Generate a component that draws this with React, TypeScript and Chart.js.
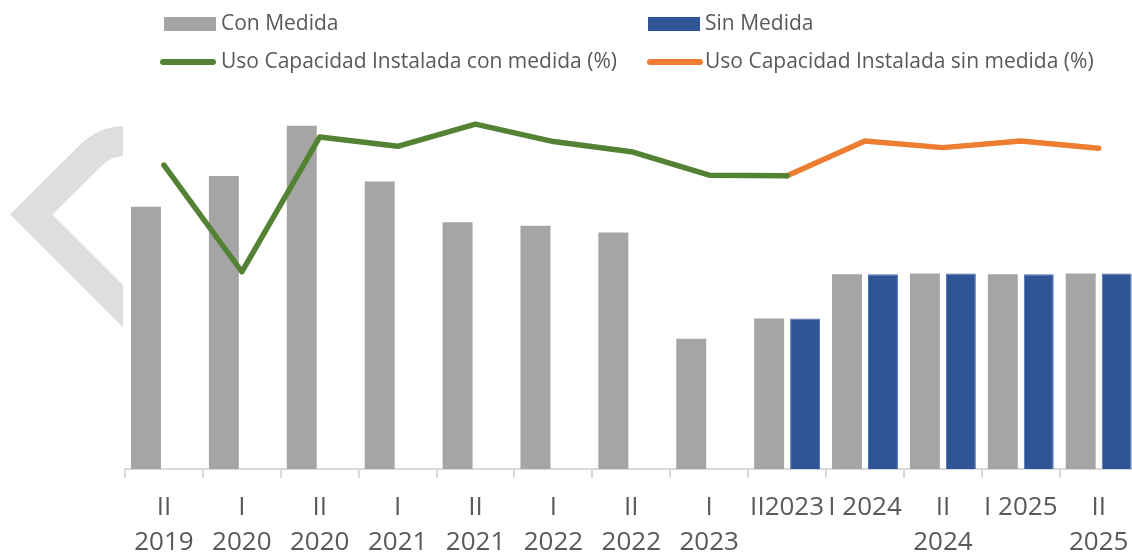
import React, { useEffect, useRef } from "react";
import { Chart, registerables } from "chart.js";

Chart.register(...registerables);

const categories: (string | string[])[] = [
  ["II", "2019"],
  ["I", "2020"],
  ["II", "2020"],
  ["I", "2021"],
  ["II", "2021"],
  ["I", "2022"],
  ["II", "2022"],
  ["I", "2023"],
  "II2023",
  "I 2024",
  ["II", "2024"],
  "I 2025",
  ["II", "2025"],
];

const conMedida = [71.1, 79.4, 93.0, 77.9, 66.9, 65.9, 64.1, 35.3, 40.8, 52.8, 53.0, 52.8, 53.0];
const sinMedida = [null, null, null, null, null, null, null, null, 40.8, 52.8, 53.0, 52.8, 53.0];
const usoConMedida = [75.3, 59.4, 79.5, 78.1, 81.4, 78.8, 77.3, 73.8, 73.7, null, null, null, null];
const usoSinMedida = [null, null, null, null, null, null, null, null, 73.7, 78.9, 77.9, 78.9, 77.8];

const labelCon = "Con Medida";
const labelSin = "Sin Medida";
const labelUsoCon = "Uso Capacidad Instalada con medida (%)";
const labelUsoSin = "Uso Capacidad Instalada sin medida (%)";

const GRAY = "#A5A5A5";
const BLUE = "#2F5597";
const GREEN = "#548235";
const ORANGE = "#ED7D31";
const TEXT = "#595959";
const FONT = "'Open Sans', sans-serif";

const legendItems = [
  { label: labelCon, color: GRAY, kind: "box", left: 164, top: 8, textLeft: 221 },
  { label: labelSin, color: BLUE, kind: "box", left: 648, top: 8, textLeft: 705 },
  { label: labelUsoCon, color: GREEN, kind: "line", left: 160, top: 46, textLeft: 221 },
  { label: labelUsoSin, color: ORANGE, kind: "line", left: 647, top: 46, textLeft: 705 },
];

export default function App() {
  const canvasRef = useRef<HTMLCanvasElement | null>(null);

  useEffect(() => {
    if (!canvasRef.current) return;
    const chart = new Chart(canvasRef.current, {
      type: "bar",
      data: {
        labels: categories,
        datasets: [
          {
            type: "line",
            label: labelUsoCon,
            data: usoConMedida,
            borderColor: GREEN,
            backgroundColor: GREEN,
            borderWidth: 5.5,
            pointRadius: 0,
            borderCapStyle: "round",
            borderJoinStyle: "round",
            yAxisID: "y1",
            order: 0,
            spanGaps: false,
          },
          {
            type: "line",
            label: labelUsoSin,
            data: usoSinMedida,
            borderColor: ORANGE,
            backgroundColor: ORANGE,
            borderWidth: 5.5,
            pointRadius: 0,
            borderCapStyle: "round",
            borderJoinStyle: "round",
            yAxisID: "y1",
            order: 0,
            spanGaps: false,
          },
          {
            type: "bar",
            label: labelCon,
            data: conMedida,
            backgroundColor: GRAY,
            yAxisID: "y",
            order: 1,
            categoryPercentage: 0.923,
            barPercentage: 0.833,
          },
          {
            type: "bar",
            label: labelSin,
            data: sinMedida,
            backgroundColor: BLUE,
            borderColor: "#4A6FAF",
            borderWidth: 1,
            yAxisID: "y",
            order: 1,
            categoryPercentage: 0.923,
            barPercentage: 0.833,
          },
        ],
      },
      options: {
        responsive: false,
        animation: false,
        layout: { padding: { top: 100, left: 125, right: 2, bottom: 0 } },
        plugins: {
          legend: { display: false },
          tooltip: { enabled: false },
        },
        scales: {
          x: {
            offset: true,
            grid: {
              offset: true,
              drawOnChartArea: false,
              drawTicks: true,
              tickLength: 9,
              color: "#D9D9D9",
              lineWidth: 2,
            },
            border: { display: true, color: "#D9D9D9", width: 2 },
            ticks: {
              color: TEXT,
              padding: 11.5,
              maxRotation: 0,
              autoSkip: false,
              font: { family: FONT, size: 26, lineHeight: 1.365 },
            },
            afterFit: (scale: any) => {
              scale.height = 85;
            },
          },
          y: { display: false, min: 0, max: 100 },
          y1: { display: false, min: 30, max: 85, position: "right" },
        },
      },
    } as any);
    return () => chart.destroy();
  }, []);

  return (
    <div
      style={{
        position: "fixed",
        left: 0,
        top: 0,
        width: 1132,
        height: 554,
        overflow: "hidden",
        background: "#fff",
      }}
    >
      <svg
        width={123}
        height={554}
        style={{ position: "absolute", left: 0, top: 0 }}
      >
        <path
          d="M 140 141 H 125 Q 106 141 91 155 L 31.2 214.5 L 140 323.3"
          fill="none"
          stroke="#DEDEDE"
          strokeWidth={30}
          strokeLinejoin="miter"
        />
      </svg>
      <canvas
        ref={canvasRef}
        width={1140}
        height={554}
        style={{ position: "absolute", left: 0, top: 0, display: "block" }}
      />
      {legendItems.map((it) => (
        <React.Fragment key={it.label}>
          {it.kind === "box" ? (
            <div
              style={{
                position: "absolute",
                left: it.left,
                top: 17,
                width: 52,
                height: 13.5,
                background: it.color,
              }}
            />
          ) : (
            <div
              style={{
                position: "absolute",
                left: it.left,
                top: 58.5,
                width: 56,
                height: 6.5,
                borderRadius: 3.25,
                background: it.color,
              }}
            />
          )}
          <div
            style={{
              position: "absolute",
              left: it.textLeft,
              top: it.top,
              fontFamily: FONT,
              fontSize: 21,
              color: TEXT,
              whiteSpace: "nowrap",
              lineHeight: "normal",
            }}
          >
            {it.label}
          </div>
        </React.Fragment>
      ))}
    </div>
  );
}
